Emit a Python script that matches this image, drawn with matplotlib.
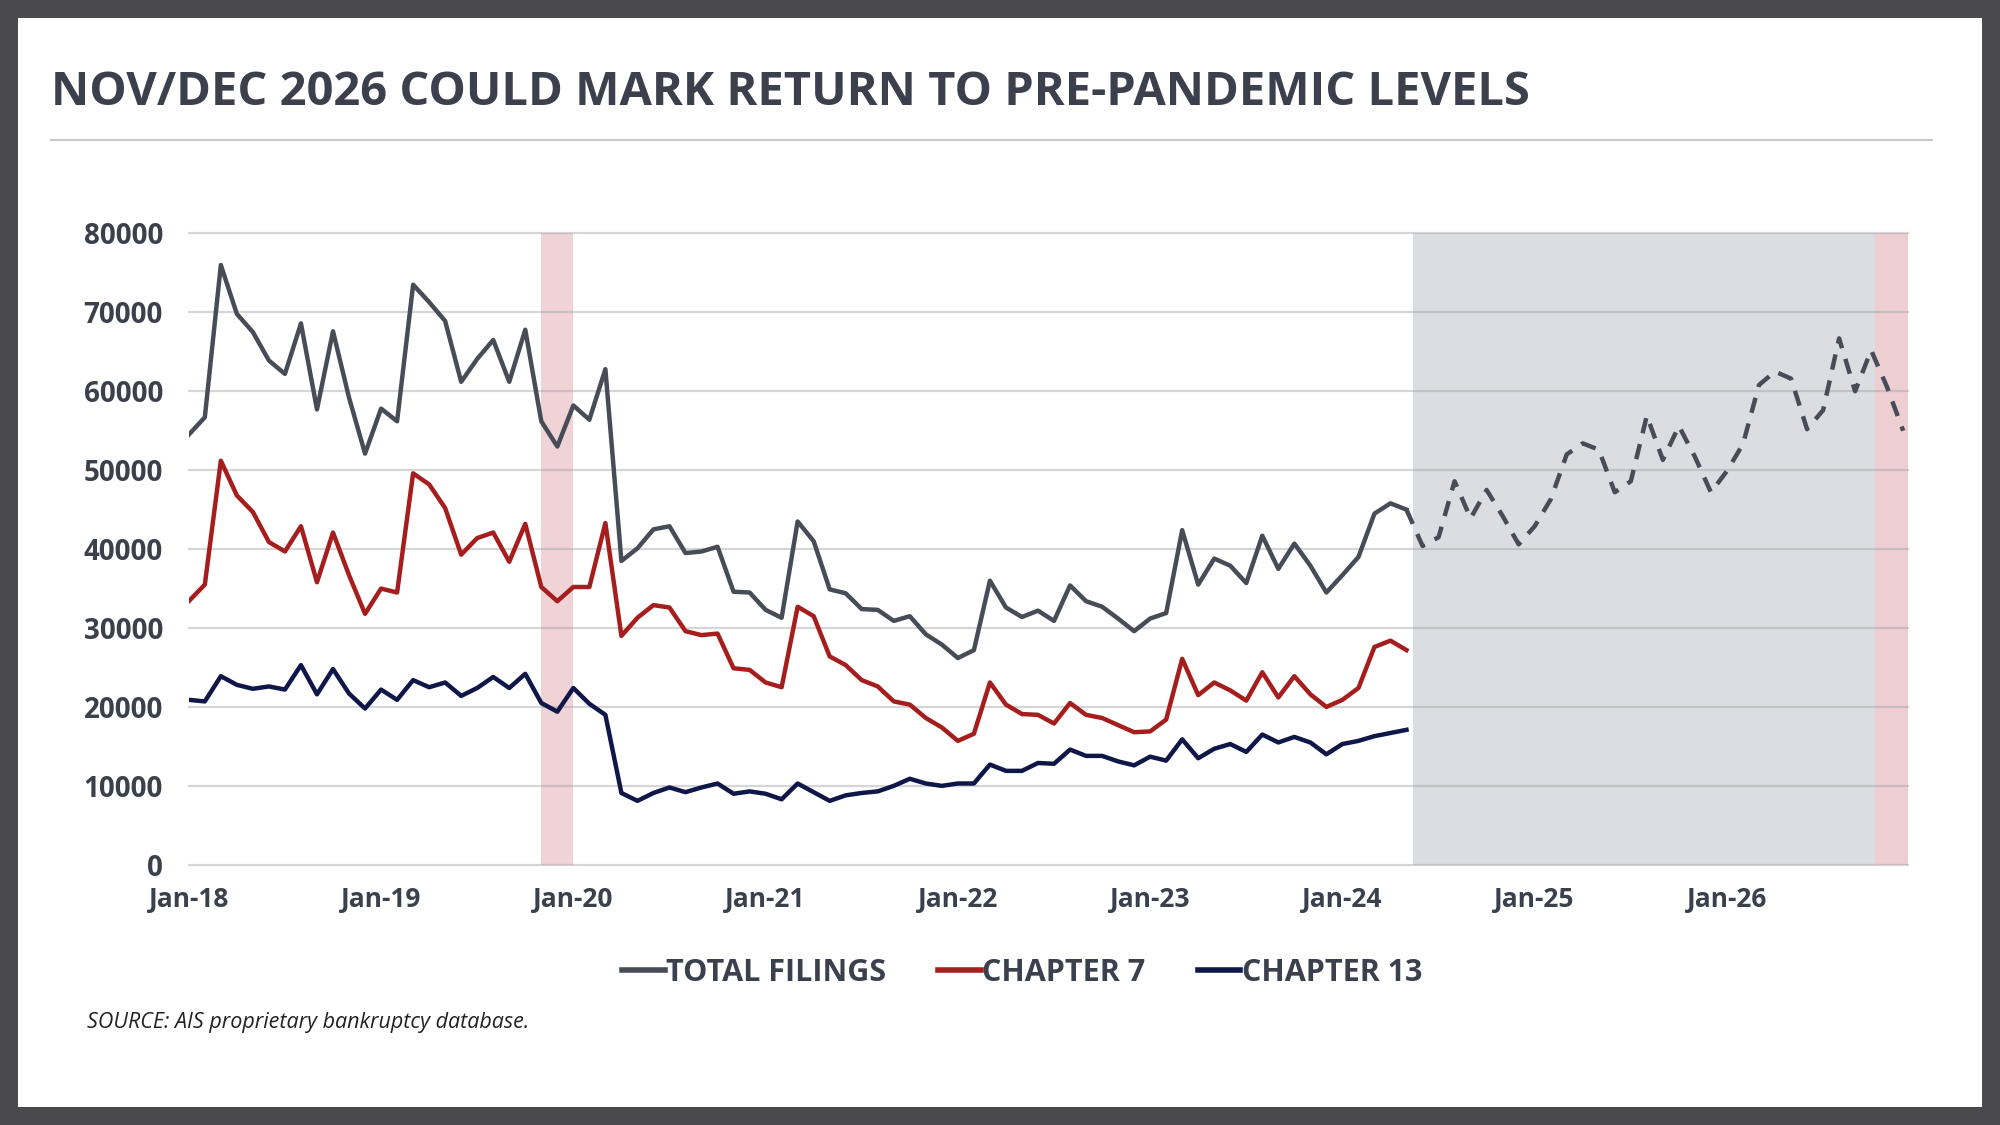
import numpy as np
import matplotlib
matplotlib.use("Agg")
import matplotlib.pyplot as plt
from matplotlib.patches import Rectangle

plt.rcParams['font.family'] = ['Open Sans', 'DejaVu Sans']

# monthly filings, Jan-18 .. May-24
total_filings = [54500, 56700, 76000, 69800, 67500, 63900, 62200, 68600, 57700, 67600, 59200, 52100,
                 57800, 56200, 73500, 71300, 68900, 61200, 64100, 66500, 61200, 67800, 56200, 53000,
                 58200, 56400, 62800, 38500, 40100, 42500, 42900, 39500, 39700, 40300, 34600, 34500,
                 32300, 31300, 43500, 41000, 34900, 34400, 32400, 32300, 30900, 31500, 29200, 27900,
                 26200, 27200, 36000, 32600, 31400, 32200, 30900, 35400, 33400, 32700, 31200, 29600,
                 31200, 31900, 42400, 35500, 38800, 37900, 35700, 41700, 37500, 40700, 37900, 34500,
                 36700, 39000, 44500, 45800, 45000]
chapter7 = [33400, 35500, 51200, 46800, 44700, 40900, 39700, 42900, 35800, 42100, 36700, 31800,
            35000, 34500, 49600, 48200, 45200, 39300, 41400, 42100, 38400, 43200, 35200, 33400,
            35200, 35200, 43300, 29000, 31300, 32900, 32600, 29600, 29100, 29300, 24900, 24700,
            23100, 22500, 32700, 31500, 26400, 25300, 23400, 22600, 20700, 20300, 18600, 17400,
            15700, 16600, 23100, 20300, 19100, 19000, 17900, 20500, 19000, 18600, 17700, 16800,
            16900, 18400, 26100, 21500, 23100, 22100, 20800, 24400, 21200, 23900, 21600, 20000,
            20900, 22400, 27600, 28400, 27200]
chapter13 = [20900, 20700, 23900, 22800, 22300, 22600, 22200, 25300, 21600, 24800, 21700, 19800,
             22200, 20900, 23400, 22500, 23100, 21400, 22400, 23800, 22400, 24200, 20500, 19400,
             22400, 20400, 19000, 9100, 8100, 9100, 9800, 9200, 9800, 10300, 9000, 9300,
             9000, 8300, 10300, 9200, 8100, 8800, 9100, 9300, 10000, 10900, 10300, 10000,
             10300, 10300, 12700, 11900, 11900, 12900, 12800, 14600, 13800, 13800, 13100, 12600,
             13700, 13200, 15900, 13500, 14700, 15300, 14300, 16500, 15500, 16200, 15500, 14000,
             15300, 15700, 16300, 16700, 17100]
# projected total filings, May-24 .. Dec-26
forecast = [45000, 40400, 41500, 48600, 43900, 47500, 44200, 40600, 42900, 46300, 52000, 53400,
            52600, 47200, 48600, 56900, 51300, 55600, 51700, 47200, 49900, 53300, 60800, 62500,
            61600, 55200, 57600, 66700, 60000, 65200, 60500, 55000]

tick_labels = ['Jan-18', 'Jan-19', 'Jan-20', 'Jan-21', 'Jan-22', 'Jan-23', 'Jan-24', 'Jan-25', 'Jan-26']
y_ticks = [0, 10000, 20000, 30000, 40000, 50000, 60000, 70000, 80000]

# shaded periods (month index, Jan-18 = 0)
holiday_2019 = (22, 24)
forecast_span = (76.4, 105.25)
holiday_2026 = (105.25, 107.3)

c_total = '#474c57'
c_ch7 = '#a61d1d'
c_ch13 = '#0f1749'
c_text = '#3b404c'

fig = plt.figure(figsize=(20, 11.25), dpi=100, facecolor='#4a4a4c')
# white slide panel inside the dark frame
fig.patches.append(Rectangle((0.009, 0.016), 0.982, 0.968, transform=fig.transFigure,
                             facecolor='white', edgecolor='none', zorder=-10))

fig.text(0.0255, 0.918, 'NOV/DEC 2026 COULD MARK RETURN TO PRE-PANDEMIC LEVELS',
         fontsize=33.8, fontweight='bold', color=c_text, va='center', ha='left')
fig.add_artist(plt.Line2D([0.0255, 0.966], [0.8756, 0.8756], color='#c9c9c9', lw=1.5))

ax = fig.add_axes([0.0944, 0.2313, 0.8596, 0.5612])
ax.set_facecolor('none')

ax.axvspan(*holiday_2019, color='#efd3d6', zorder=1, lw=0)
ax.axvspan(*forecast_span, color='#dcdde2', zorder=1, lw=0)
ax.axvspan(*holiday_2026, color='#edcfd3', zorder=1, lw=0)

for yv in y_ticks:
    ax.axhline(yv, color='#9a9a9e', alpha=0.4, lw=1.6, zorder=2, clip_on=False)

months = np.arange(len(total_filings))
months_fc = np.arange(len(total_filings) - 1, len(total_filings) - 1 + len(forecast))

ax.plot(months, total_filings, color=c_total, lw=3.2, zorder=4, label='TOTAL FILINGS')
ax.plot(months, chapter7, color=c_ch7, lw=3.2, zorder=4, label='CHAPTER 7')
ax.plot(months, chapter13, color=c_ch13, lw=3.2, zorder=4, label='CHAPTER 13')
ax.plot(months_fc, forecast, color=c_total, lw=3.2, zorder=4, linestyle=(0, (3.5, 2.5)))

ax.set_xlim(0, 107.3)
ax.set_ylim(0, 80000)
ax.set_xticks(np.arange(len(tick_labels)) * 12)
ax.set_xticklabels(tick_labels)
ax.set_yticks(y_ticks)
ax.set_yticklabels([str(v) for v in y_ticks])
ax.tick_params(axis='both', length=0, labelcolor=c_text)
ax.tick_params(axis='y', pad=18.5, labelsize=20)
ax.tick_params(axis='x', pad=15, labelsize=19)
for lbl in ax.get_xticklabels() + ax.get_yticklabels():
    lbl.set_fontweight('bold')
for s in ax.spines.values():
    s.set_visible(False)

handles, labels = ax.get_legend_handles_labels()
leg = fig.legend(handles, labels, loc='center', bbox_to_anchor=(0.511, 0.135), ncol=3,
                 frameon=False, handlelength=1.4, handletextpad=0.05, columnspacing=1.7,
                 prop={'size': 22, 'weight': 'bold'})
for t in leg.get_texts():
    t.set_color(c_text)
for h in leg.get_lines():
    h.set_linewidth(4)

fig.text(0.0434, 0.0907, 'SOURCE: AIS proprietary bankruptcy database.', fontsize=15.5,
         style='italic', color='#222222', va='center', ha='left')

fig.savefig('out.png', dpi=100, facecolor=fig.get_facecolor())
